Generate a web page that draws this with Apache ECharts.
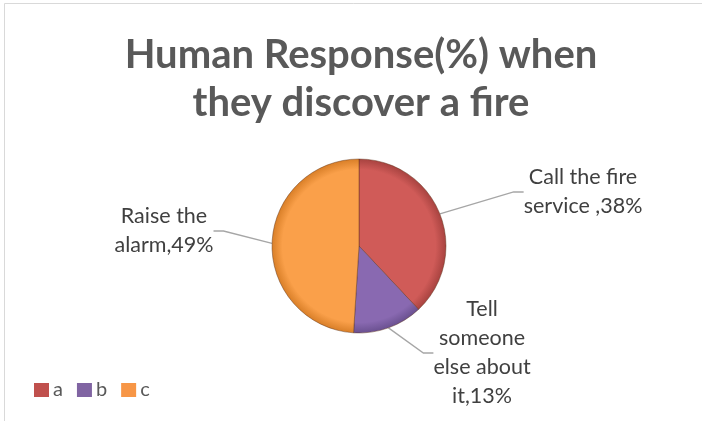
<!DOCTYPE html>
<html>
<head>
<meta charset="utf-8">
<script src="https://cdn.jsdelivr.net/npm/echarts@6/dist/echarts.min.js"></script>
<style>
html,body{margin:0;padding:0;background:#fff;}
#chart{width:702px;height:421px;}
</style>
</head>
<body>
<div id="chart"></div>
<script>
// ---- data ----
const categories = ['a', 'b', 'c'];
const values = [38, 13, 49];
const labelTexts = ['Call the fire\nservice ,38%', 'Tell\nsomeone\nelse about\nit,13%', 'Raise the\nalarm,49%'];
const titleText = 'Human Response(%) when\nthey discover a fire';

// ---- style ----
const baseColors = ['#D05B58', '#8969B1', '#FAA04A'];
const rimColors = ['#A84340', '#6A5090', '#D97F28'];
const legendColors = ['#C0504D', '#8064A2', '#F79646'];
const CX = 359, CY = 246, R = 87;
const labelPos = [
  {x: 583, y: 192, align: 'center'},
  {x: 482, y: 353, align: 'center'},
  {x: 164, y: 231, align: 'center'}
];

const chart = echarts.init(document.getElementById('chart'), null, {renderer: 'canvas'});

const data = categories.map((c, i) => ({
  name: c,
  value: values[i],
  label: {formatter: labelTexts[i]},
  itemStyle: {
    color: {
      type: 'radial', x: CX, y: CY, r: R, global: true,
      colorStops: [
        {offset: 0, color: baseColors[i]},
        {offset: 0.88, color: baseColors[i]},
        {offset: 1, color: rimColors[i]}
      ]
    }
  }
}));

chart.setOption({
  animation: false,
  backgroundColor: '#ffffff',
  title: {
    text: titleText,
    left: 356,
    textAlign: 'center',
    top: 26,
    textStyle: {
      fontFamily: 'Lato',
      fontWeight: 'bold',
      fontSize: 40,
      lineHeight: 48,
      color: '#595959'
    }
  },
  legend: {
    left: 29,
    top: 375,
    orient: 'horizontal',
    icon: 'rect',
    itemWidth: 15,
    itemHeight: 14,
    itemGap: 14,
    itemStyle: {borderWidth: 0},
    textStyle: {fontFamily: 'Lato', fontSize: 20, color: '#595959', padding: [0, 0, 0, -1]},
    data: categories.map((c, i) => ({name: c, itemStyle: {color: legendColors[i], borderWidth: 0}}))
  },
  graphic: [
    {type: 'line', shape: {x1: 4.5, y1: 3.5, x2: 702, y2: 3.5}, style: {stroke: '#D9D9D9', lineWidth: 1}},
    {type: 'line', shape: {x1: 4.5, y1: 3.5, x2: 4.5, y2: 421}, style: {stroke: '#D9D9D9', lineWidth: 1}}
  ],
  series: [{
    type: 'pie',
    center: [CX, CY],
    radius: [0, R],
    startAngle: 90,
    clockwise: true,
    data: data,
    itemStyle: {borderColor: 'rgba(90,45,20,0.55)', borderWidth: 0.8},
    label: {
      show: true,
      position: 'outside',
      fontFamily: 'Lato',
      fontSize: 21.5,
      lineHeight: 29,
      color: '#404040'
    },
    labelLine: {
      show: true,
      length: 10,
      length2: 10,
      lineStyle: {color: '#A6A6A6', width: 1.3}
    },
    labelLayout: function (p) {
      const lp = labelPos[p.dataIndex];
      return {x: lp.x, y: lp.y, align: lp.align, verticalAlign: 'middle'};
    },
    emphasis: {disabled: true}
  }]
});
</script>
</body>
</html>
